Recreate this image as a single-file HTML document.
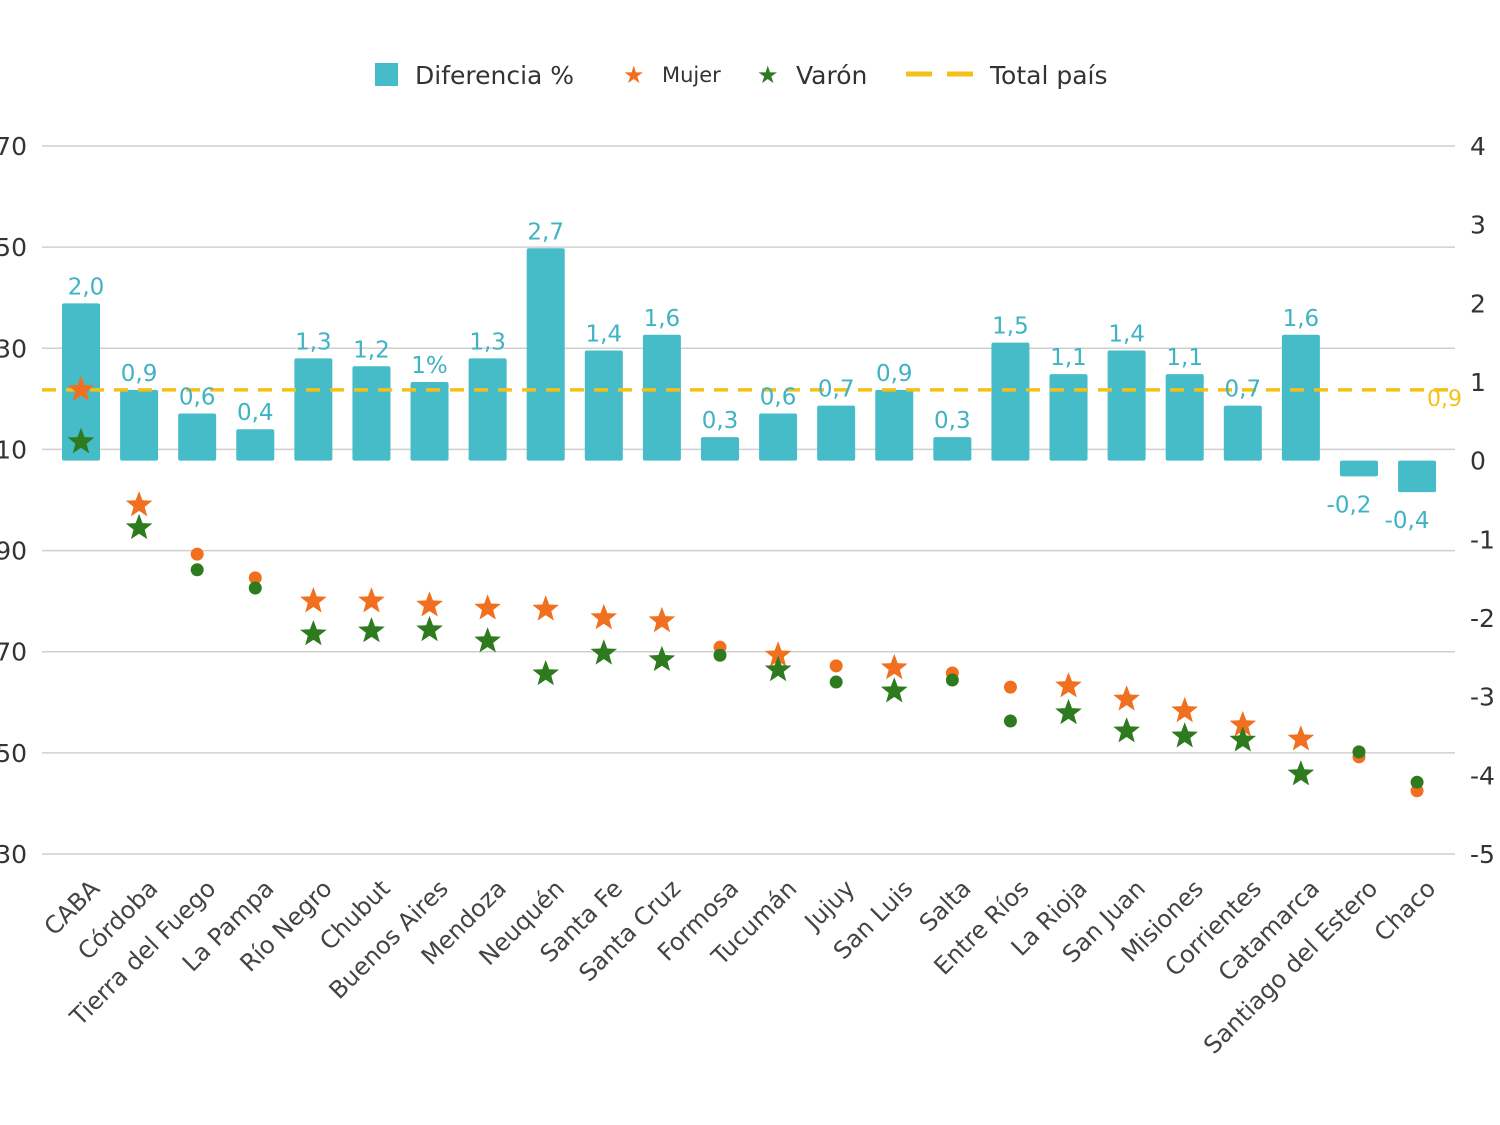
<!DOCTYPE html>
<html><head><meta charset="utf-8"><style>
body{margin:0;background:#fff;}
svg{display:block;font-family:"DejaVu Sans","Liberation Sans",sans-serif;}
</style></head><body>
<svg id="chart" width="1500" height="1125" viewBox="0 0 1500 1125" xmlns="http://www.w3.org/2000/svg">
<g>
  <rect x="375" y="63" width="23" height="23" fill="#45bcc8"/>
  <text x="415" y="84" font-size="25" fill="#333">Diferencia %</text>
  <text x="623" y="83" font-size="24" fill="#f07020">★</text>
  <text x="662" y="82" font-size="21" fill="#333">Mujer</text>
  <text x="757" y="83" font-size="24" fill="#2e7a1e">★</text>
  <text x="796" y="84" font-size="25" fill="#333">Varón</text>
  <line x1="906" y1="74" x2="975" y2="74" stroke="#f5c018" stroke-width="5" stroke-dasharray="26,15"/>
  <text x="990" y="84" font-size="25" fill="#333">Total país</text>
</g>
<g id="grid"></g><g id="bars"></g><g id="marks"></g><g id="labels"></g>
</svg>
<script>
const categories=["CABA","Córdoba","Tierra del Fuego","La Pampa","Río Negro","Chubut","Buenos Aires","Mendoza","Neuquén","Santa Fe","Santa Cruz","Formosa","Tucumán","Jujuy","San Luis","Salta","Entre Ríos","La Rioja","San Juan","Misiones","Corrientes","Catamarca","Santiago del Estero","Chaco"];
const diferencia=[2.0,0.9,0.6,0.4,1.3,1.2,1.0,1.3,2.7,1.4,1.6,0.3,0.6,0.7,0.9,0.3,1.5,1.1,1.4,1.1,0.7,1.6,-0.2,-0.4];
const diferenciaLabels=["2,0","0,9","0,6","0,4","1,3","1,2","1%","1,3","2,7","1,4","1,6","0,3","0,6","0,7","0,9","0,3","1,5","1,1","1,4","1,1","0,7","1,6","-0,2","-0,4"];
const mujer=[121.8,99.0,89.3,84.6,80.0,80.0,79.2,78.6,78.4,76.7,76.1,70.9,69.3,67.2,66.8,65.8,63.0,63.2,60.6,58.3,55.5,52.7,49.2,42.5];
const varon=[111.5,94.5,86.2,82.6,73.5,74.1,74.3,72.1,65.6,69.7,68.4,69.3,66.4,64.0,62.2,64.4,56.3,57.9,54.3,53.3,52.5,45.8,50.2,44.2];
const markerShape=["star","star","dot","dot","star","star","star","star","star","star","star","dot","star","dot","star","dot","dot","star","star","star","star","star","dot","dot"];
const totalPais=0.9;
const totalPaisLabel="0,9";
const leftTicks=[170,150,130,110,90,70,50,30];
const rightTicks=[4,3,2,1,0,-1,-2,-3,-4,-5];
const rightTickLabels=["4","3","2","1","0","-1","-2","-3","-4","-5"];

const NS="http://www.w3.org/2000/svg";
const yL=v=>146+(170-v)*(708/140);
const yR=v=>146+(4-v)*(708/9);
const xC=i=>81+i*58.09;
function mk(tag,attrs,parent,txt){const e=document.createElementNS(NS,tag);for(const k in attrs)e.setAttribute(k,attrs[k]);if(txt!==undefined)e.textContent=txt;document.getElementById(parent).appendChild(e);return e;}
function star(cx,cy,r){let p=[];for(let k=0;k<10;k++){const a=-Math.PI/2+k*Math.PI/5;const rr=k%2?r*0.42:r;p.push((cx+rr*Math.cos(a)).toFixed(1)+","+(cy+rr*Math.sin(a)).toFixed(1));}return p.join(" ");}

leftTicks.forEach((t,i)=>{
  let l=mk("line",{x1:42,x2:1455,y1:yL(t),y2:yL(t),stroke:"#cfcfcf","stroke-width":1.5},"grid");
  
  let tx=mk("text",{x:27,y:yL(t)+9,"font-size":25,fill:"#333","text-anchor":"end"},"grid",String(t));
  
});
rightTicks.forEach((t,i)=>{
  let tx=mk("text",{x:1470,y:yR(t)+9,"font-size":25,fill:"#333"},"grid",rightTickLabels[i]);
  
});
categories.forEach((c,i)=>{
  const x=xC(i),v=diferencia[i],y0=yR(0),y1=yR(v);
  let b=mk("rect",{x:x-19,y:Math.min(y0,y1),width:38,height:Math.max(2,Math.abs(y1-y0)),fill:"#45bcc8",rx:2},"bars");
  
  const ly=v>=0?y1-9:y1+36;
  let lt=mk("text",{x:x+(i>=22?-10:0)+(i==0?5:0),y:ly,"font-size":23,fill:"#3fb3c3","text-anchor":"middle"},"labels",diferenciaLabels[i]);
  
  let xl=mk("text",{x:0,y:0,"font-size":24,fill:"#444","text-anchor":"end",transform:`translate(${x+20},${890}) rotate(-45)`},"labels",c);
  
});
let tl=mk("line",{x1:42,x2:1455,y1:yR(totalPais),y2:yR(totalPais),stroke:"#f5c018","stroke-width":3.5,"stroke-dasharray":"14,10"},"marks");

let tpl=mk("text",{x:1427,y:yR(totalPais)+16,"font-size":22,fill:"#f5c018"},"labels",totalPaisLabel);

function marker(i,v,color,name){
  const x=xC(i),y=yL(v);let e;
  if(markerShape[i]==="star") e=mk("polygon",{points:star(x,y,14),fill:color},"marks");
  else e=mk("circle",{cx:x,cy:y,r:6.5,fill:color},"marks");
  
}
categories.forEach((c,i)=>{marker(i,mujer[i],"#f07020","mujer-point");});
categories.forEach((c,i)=>{marker(i,varon[i],"#2e7a1e","varon-point");});
</script>
</body></html>
